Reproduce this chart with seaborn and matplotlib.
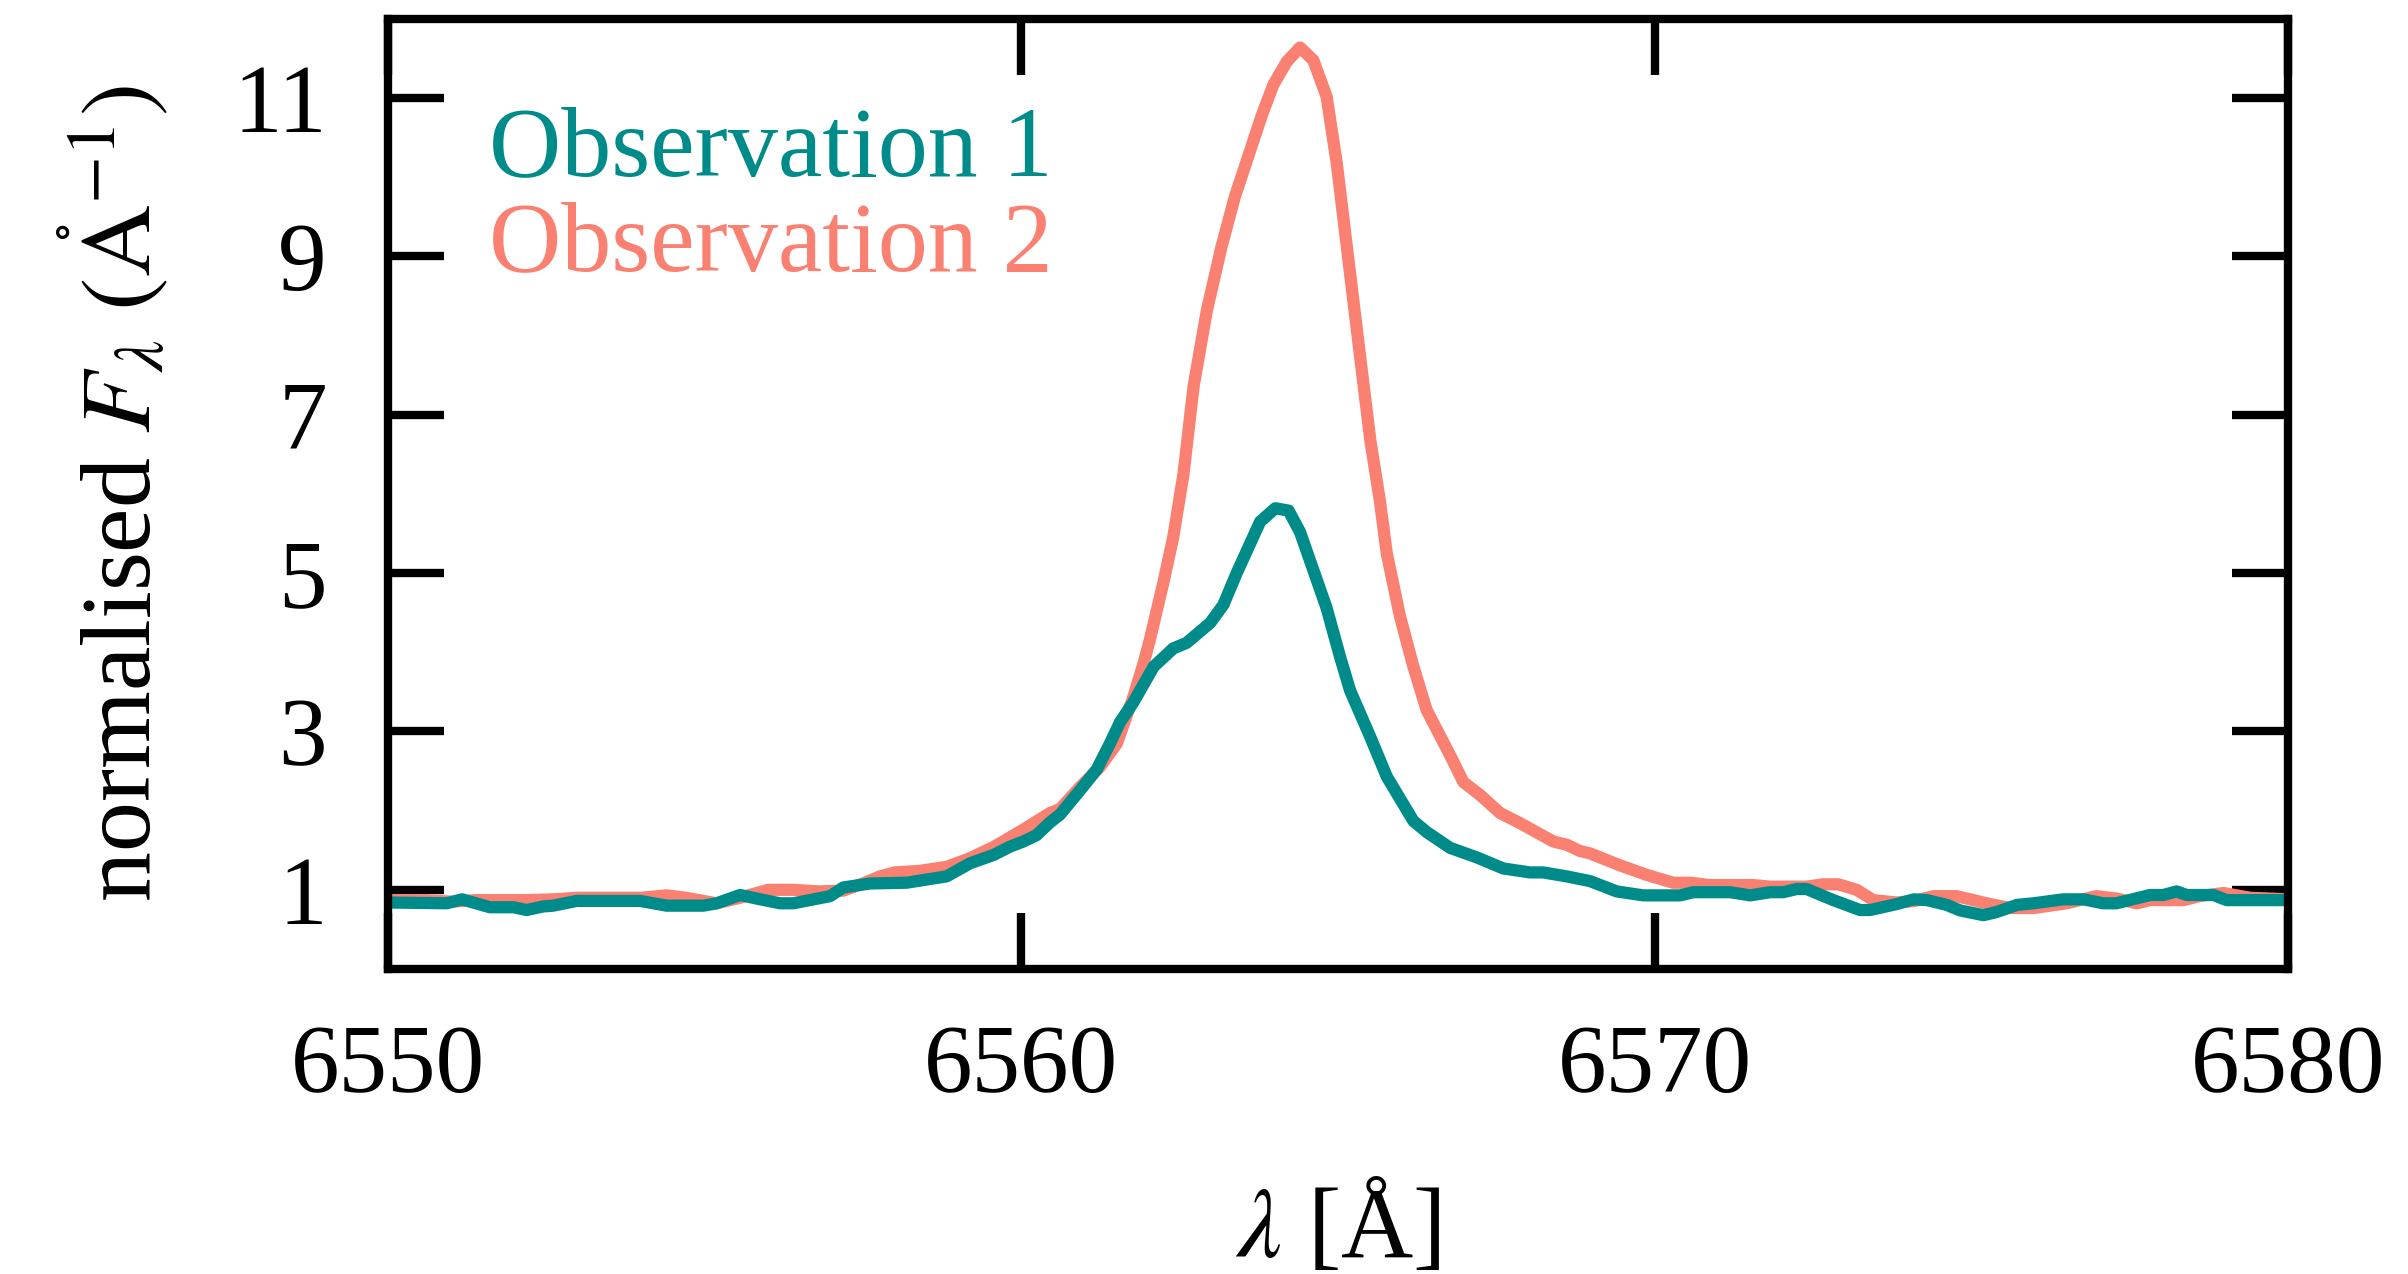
import numpy as np
import pandas as pd
import seaborn as sns
import matplotlib
matplotlib.use("Agg")
import matplotlib.pyplot as plt

# ---------------- data ----------------
obs1_wave = [6550.00, 6550.93, 6551.17, 6551.61, 6551.98, 6552.19, 6552.45, 6552.61,
             6552.98, 6553.98, 6554.40, 6554.98, 6555.19, 6555.56, 6555.82, 6556.19,
             6556.40, 6556.98, 6557.19, 6557.61, 6558.19, 6558.82, 6559.19, 6559.56,
             6559.82, 6560.03, 6560.24, 6560.45, 6560.61, 6560.93, 6561.19, 6561.40,
             6561.56, 6561.77, 6562.09, 6562.40, 6562.61, 6562.98, 6563.19, 6563.40,
             6563.77, 6564.01, 6564.22, 6564.40, 6564.61, 6564.82, 6565.03, 6565.19,
             6565.51, 6565.77, 6566.19, 6566.40, 6566.77, 6567.19, 6567.61, 6568.03,
             6568.24, 6568.61, 6568.98, 6569.40, 6569.82, 6570.40, 6570.61, 6571.19,
             6571.51, 6571.82, 6572.03, 6572.24, 6572.40, 6572.82, 6573.24, 6573.40,
             6573.82, 6574.09, 6574.30, 6574.61, 6574.82, 6575.19, 6575.40, 6575.72,
             6575.98, 6576.45, 6576.77, 6577.08, 6577.29, 6577.82, 6578.03, 6578.24,
             6578.40, 6578.82, 6579.03, 6579.40, 6580.00]
obs1_flux = [0.84, 0.83, 0.88, 0.78, 0.78, 0.745, 0.79, 0.80,
             0.86, 0.86, 0.80, 0.80, 0.83, 0.935, 0.89, 0.83,
             0.83, 0.92, 1.03, 1.08, 1.09, 1.17, 1.335, 1.44,
             1.545, 1.61, 1.69, 1.85, 1.95, 2.26, 2.52, 2.85,
             3.12, 3.37, 3.82, 4.05, 4.12, 4.37, 4.60, 5.00,
             5.65, 5.82, 5.79, 5.52, 5.04, 4.56, 3.95, 3.52,
             2.93, 2.43, 1.87, 1.73, 1.53, 1.41, 1.27, 1.22,
             1.22, 1.17, 1.11, 0.98, 0.93, 0.93, 0.97, 0.97,
             0.93, 0.97, 0.97, 1.01, 1.01, 0.87, 0.745, 0.745,
             0.82, 0.88, 0.87, 0.81, 0.74, 0.68, 0.72, 0.81,
             0.83, 0.88, 0.88, 0.83, 0.83, 0.935, 0.935, 0.98,
             0.935, 0.935, 0.87, 0.87, 0.87]

obs2_wave = [6550.00, 6550.60, 6551.00, 6551.40, 6552.19, 6552.61, 6553.00, 6554.00,
             6554.40, 6554.70, 6555.19, 6555.56, 6556.00, 6556.40, 6556.80, 6557.19,
             6557.50, 6557.77, 6558.00, 6558.40, 6558.82, 6559.19, 6559.56, 6560.03,
             6560.45, 6560.61, 6560.93, 6561.24, 6561.51, 6561.77, 6561.93, 6562.03,
             6562.24, 6562.40, 6562.56, 6562.72, 6562.93, 6563.16, 6563.37, 6563.80,
             6563.98, 6564.19, 6564.40, 6564.61, 6564.82, 6564.98, 6565.14, 6565.35,
             6565.51, 6565.66, 6565.77, 6565.98, 6566.19, 6566.40, 6566.77, 6566.98,
             6567.24, 6567.56, 6567.88, 6568.40, 6568.61, 6568.82, 6568.98, 6569.45,
             6569.87, 6570.29, 6570.56, 6570.87, 6571.56, 6571.82, 6572.40, 6572.66,
             6572.90, 6573.19, 6573.45, 6573.82, 6574.10, 6574.40, 6574.77, 6575.24,
             6575.61, 6575.98, 6576.50, 6576.97, 6577.29, 6577.61, 6577.82, 6578.35,
             6578.60, 6578.98, 6579.40, 6580.00]
obs2_flux = [0.87, 0.87, 0.85, 0.87, 0.87, 0.88, 0.90, 0.90,
             0.93, 0.90, 0.83, 0.90, 1.00, 1.00, 0.98, 0.99,
             1.08, 1.17, 1.22, 1.24, 1.29, 1.40, 1.54, 1.76,
             1.97, 2.02, 2.30, 2.55, 2.85, 3.44, 3.86, 4.16,
             4.87, 5.46, 6.25, 7.36, 8.32, 9.12, 9.75, 10.79,
             11.17, 11.46, 11.64, 11.48, 11.02, 10.18, 9.12, 7.73,
             6.68, 5.92, 5.25, 4.45, 3.82, 3.27, 2.70, 2.36,
             2.20, 1.97, 1.84, 1.61, 1.57, 1.49, 1.46, 1.31,
             1.19, 1.09, 1.09, 1.06, 1.06, 1.04, 1.04, 1.07,
             1.07, 1.00, 0.87, 0.84, 0.86, 0.92, 0.92, 0.83,
             0.77, 0.77, 0.83, 0.92, 0.89, 0.83, 0.87, 0.87,
             0.92, 0.96, 0.90, 0.88]

series_names = ["Observation 1", "Observation 2"]
series_colors = ["#008B8B", "#FA8072"]
x_ticks = [6550, 6560, 6570, 6580]
y_ticks = [1, 3, 5, 7, 9, 11]

df = pd.concat([
    pd.DataFrame({"wavelength": obs1_wave, "flux": obs1_flux, "obs": series_names[0]}),
    pd.DataFrame({"wavelength": obs2_wave, "flux": obs2_flux, "obs": series_names[1]}),
], ignore_index=True)

# ---------------- style ----------------
sns.set_style("white")
plt.rcParams["font.family"] = ["Liberation Serif", "DejaVu Serif"]
plt.rcParams["mathtext.fontset"] = "stix"
plt.rcParams["text.color"] = "black"
plt.rcParams["axes.labelcolor"] = "black"
plt.rcParams["xtick.color"] = "black"
plt.rcParams["ytick.color"] = "black"

FS = 35
fig = plt.figure(figsize=(12.04, 6.37), dpi=200)
ax = fig.add_axes([0.1611, 0.2394, 0.7891, 0.7457])

palette = dict(zip(series_names, series_colors))
sns.lineplot(data=df, x="wavelength", y="flux", hue="obs",
             hue_order=[series_names[1], series_names[0]],
             palette=palette, linewidth=4.4, estimator=None, sort=True,
             legend=False, ax=ax)

ax.set_xlim(6550, 6580)
ax.set_ylim(0, 12)
ax.set_xticks(x_ticks)
ax.set_yticks(y_ticks)
ax.set_xticklabels([str(t) for t in x_ticks])
ax.set_yticklabels([str(t) for t in y_ticks])

for sp in ax.spines.values():
    sp.set_visible(True)
    sp.set_linewidth(3.0)
    sp.set_color("black")

ax.tick_params(axis="both", which="major", direction="in",
               bottom=True, left=True, top=True, right=True,
               length=20, width=3.0, color="black", labelcolor="black",
               labelsize=FS)
ax.tick_params(axis="x", pad=20)
ax.tick_params(axis="y", pad=22)

ax.set_xlabel(r"$\lambda$ [Å]", fontsize=FS + 1, labelpad=24)
ax.set_ylabel(r"normalised $F_\lambda$ $(\mathrm{\mathring{A}}^{-1})$",
              fontsize=FS + 1, labelpad=22)

for i, (name, col) in enumerate(zip(series_names, series_colors)):
    ax.text(0.053, 0.861 - 0.1 * i, name, color=col, fontsize=FS + 1,
            transform=ax.transAxes, ha="left", va="center")

fig.savefig("out.png", dpi=200)
